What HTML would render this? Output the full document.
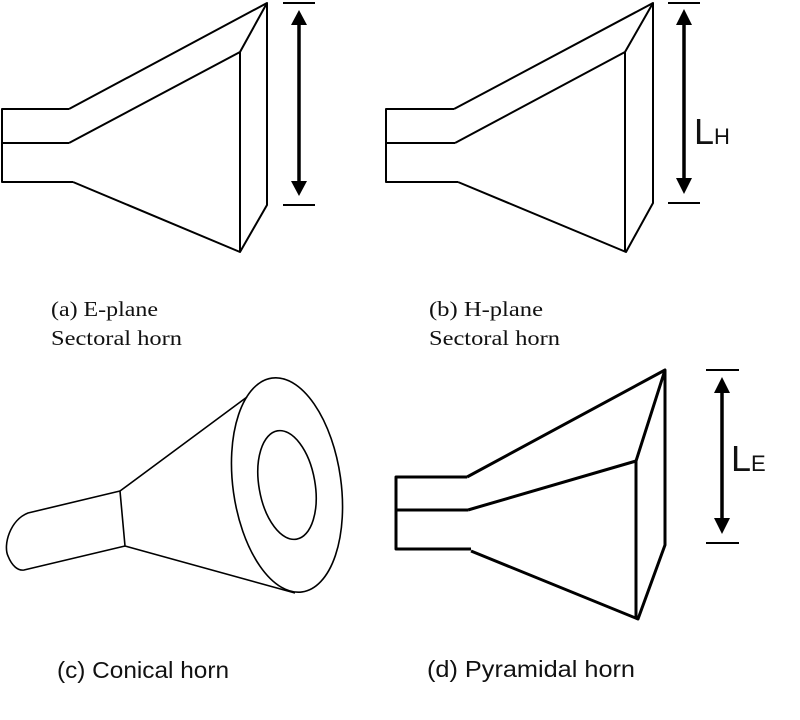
<!DOCTYPE html>
<html><head><meta charset="utf-8"><style>
html,body{margin:0;padding:0;background:#fff;}
svg{display:block;}
.s{font-family:"Liberation Serif",serif;font-size:21px;fill:#111;}
.a{font-family:"Liberation Sans",sans-serif;font-size:23px;fill:#111;}
</style></head><body>
<svg width="800" height="720" viewBox="0 0 800 720" xmlns="http://www.w3.org/2000/svg">
<g fill="none" stroke="#000" stroke-width="2" stroke-linejoin="round">
<path d="M69,109 H2 V182 H73 M2,143 H69"/>
<path d="M69,109 L267,3 V205 L240,252 L73,182"/>
<path d="M69,143 L240,52 V252 M240,52 L267,3"/>
<path d="M283,3 H315 M283,205 H315"/>
<line x1="299" y1="20" x2="299" y2="185" stroke-width="3.5"/>
<path d="M454,109 H386 V182 H458 M386,143 H455"/>
<path d="M454,109 L653,3 V203 L626,252 L458,182"/>
<path d="M455,143 L625,52 V252 M625,52 L653,3"/>
<path d="M668,3 H700 M668,203 H700"/>
<line x1="684" y1="20" x2="684" y2="183" stroke-width="3.5"/>
<g stroke-width="3">
<path d="M467,477 H396 V549 H471 M396,510 H468"/>
<path d="M467,477 L665,370 V545 L638,619 L471,551"/>
<path d="M468,510 L636,461 V619 M636,461 L665,370"/>
</g>
<path d="M706,370 H739 M706,543 H739"/>
<line x1="722" y1="388" x2="722" y2="525" stroke-width="3.5"/>
<g stroke-width="1.6">
<ellipse cx="287" cy="485" rx="54" ry="108" transform="rotate(-8 287 485)"/>
<ellipse cx="287" cy="485" rx="28" ry="55" transform="rotate(-10 287 485)"/>
<path d="M247,397 L120,491 L125,546 L295,593"/>
<path d="M120,491 L28,513 C10,520 3,545 8,556 C12,566 18,571 24,570 L125,546"/>
</g>
</g>
<g fill="#000">
<path d="M299,10 L307,25 L291,25 z M299,196 L307,181 L291,181 z"/>
<path d="M684,9 L692,25 L676,25 z M684,194 L692,178 L676,178 z"/>
<path d="M722,377 L730,393 L714,393 z M722,534 L730,518 L714,518 z"/>
</g>
<text class="s" x="51" y="316" textLength="107" lengthAdjust="spacingAndGlyphs">(a) E-plane</text>
<text class="s" x="51" y="345" textLength="131" lengthAdjust="spacingAndGlyphs">Sectoral horn</text>
<text class="s" x="429" y="316" textLength="114" lengthAdjust="spacingAndGlyphs">(b) H-plane</text>
<text class="s" x="429" y="345" textLength="131" lengthAdjust="spacingAndGlyphs">Sectoral horn</text>
<text class="a" x="57" y="678" textLength="172" lengthAdjust="spacingAndGlyphs">(c) Conical horn</text>
<text class="a" x="427" y="677" textLength="208" lengthAdjust="spacingAndGlyphs">(d) Pyramidal horn</text>
<text font-family="Liberation Sans,sans-serif" font-size="36" x="694" y="144" fill="#111">L<tspan font-size="22">H</tspan></text>
<text font-family="Liberation Sans,sans-serif" font-size="36" x="731" y="471" fill="#111">L<tspan font-size="22">E</tspan></text>
</svg>
</body></html>
